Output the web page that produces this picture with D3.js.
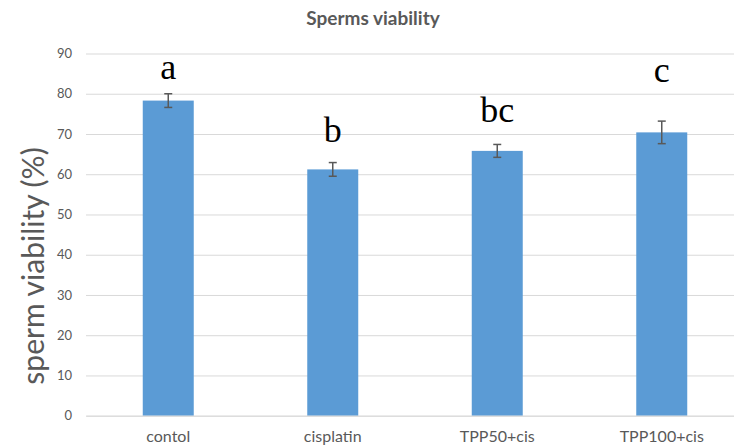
<!DOCTYPE html>
<html><head><meta charset="utf-8">
<script src="https://cdn.jsdelivr.net/npm/d3@7"></script>
<style>body{margin:0;background:#fff}svg{display:block}</style>
</head><body>
<script>
const categories = ["contol", "cisplatin", "TPP50+cis", "TPP100+cis"];
const values = [78.3, 61.2, 65.8, 70.4];
const errors = [1.7, 1.7, 1.6, 2.8];
const letters = ["a", "b", "bc", "c"];
const letterLevels = [83.7, 68.1, 72.9, 82.8];
const yTicks = [0, 10, 20, 30, 40, 50, 60, 70, 80, 90];

(function () {
const W = 734, H = 448;
const svg = d3.select("body").append("svg").attr("width", W).attr("height", H);
const pLeft = 86, pRight = 744, pTop = 53.5, pBottom = 415.7;
const sans = "Lato, 'Open Sans', sans-serif";

const x = d3.scaleBand().domain(categories).range([pLeft, pRight]).paddingInner(0.69).paddingOuter(0.345);
const y = d3.scaleLinear().domain([0, 90]).range([pBottom, pTop]);

// grid
const yAxis = d3.axisLeft(y).tickValues(yTicks).tickSize(-(pRight - pLeft)).tickPadding(14);
const ga = svg.append("g").attr("transform", `translate(${pLeft},0)`).call(yAxis);
ga.select(".domain").remove();
ga.selectAll("line").attr("stroke", "#d9d9d9").attr("stroke-width", 1);
ga.selectAll("text").attr("fill", "#595959").style("font-family", sans).style("font-size", "13px");

// bars
svg.append("g").selectAll("rect").data(categories).join("rect")
  .attr("x", d => x(d)).attr("width", x.bandwidth())
  .attr("y", (d, i) => y(values[i])).attr("height", (d, i) => y(0) - y(values[i]))
  .attr("fill", "#5b9bd5");

// error bars
const eb = svg.append("g").attr("stroke", "#595959").attr("stroke-width", 1.5);
categories.forEach((c, i) => {
  const cx = x(c) + x.bandwidth() / 2;
  eb.append("line").attr("x1", cx).attr("x2", cx).attr("y1", y(values[i] + errors[i])).attr("y2", y(values[i] - errors[i]));
  [values[i] + errors[i], values[i] - errors[i]].forEach(v => {
    eb.append("line").attr("x1", cx - 4).attr("x2", cx + 4).attr("y1", y(v)).attr("y2", y(v));
  });
});

// x axis labels
const xAxis = d3.axisBottom(x).tickSize(0).tickPadding(15);
const gx = svg.append("g").attr("transform", `translate(0,${pBottom})`).call(xAxis);
gx.select(".domain").attr("stroke", "#d9d9d9");
gx.selectAll("text").attr("fill", "#595959").style("font-family", sans).style("font-size", "16px");

// significance letters
svg.append("g").selectAll("text").data(categories).join("text")
  .attr("x", d => x(d) + x.bandwidth() / 2)
  .attr("y", (d, i) => y(letterLevels[i]))
  .attr("text-anchor", "middle")
  .style("font-family", "'Liberation Serif', 'Times New Roman', serif")
  .style("font-size", "36px").attr("fill", "#000")
  .text((d, i) => letters[i]);

// title
svg.append("text").attr("x", 373).attr("y", 25).attr("text-anchor", "middle")
  .style("font-family", sans).style("font-weight", "bold").style("font-size", "19px")
  .attr("fill", "#595959").text("Sperms viability");

// y title
svg.append("text").attr("transform", `translate(44,266) rotate(-90)`)
  .attr("text-anchor", "middle")
  .style("font-family", sans).style("font-size", "30px")
  .attr("fill", "#595959").text("sperm viability (%)");
})();
</script>
</body></html>
